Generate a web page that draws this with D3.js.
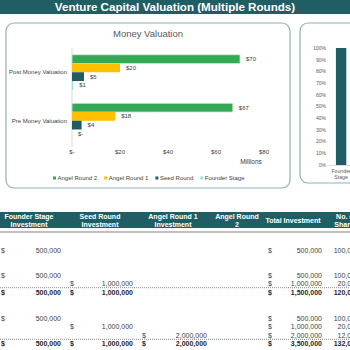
<!DOCTYPE html>
<html>
<head>
<meta charset="utf-8">
<script src="https://cdn.jsdelivr.net/npm/d3@7"></script>
<style>
  body { margin: 0; background: #fff; }
  svg { display: block; font-family: "Liberation Sans", Arial, sans-serif; }
</style>
</head>
<body>
<div id="chart"></div>
<script>
// ---- data ----
const categories = ["Post Money Valuation", "Pre Money Valuation"];
const series = ["Angel Round 2", "Angel Round 1", "Seed Round", "Founder Stage"];
const postValues = [70, 20, 5, 0.5];   // millions
const preValues = [67, 18, 4, 0];
const xTicks = [0, 20, 40, 60, 80];

const stages = ["Founder Stage"];
const founderOwnership = [1.0];

const headers = [["Founder Stage", "Investment"], ["Seed Round", "Investment"], ["Angel Round 1", "Investment"],
                 ["Angel Round", "2"], ["Total Investment"], ["No. of", "Shares"]];
const rowGroup = [0, 1, 1, 1, 2, 2, 2, 2];
const rowLine = [0, 0, 1, 2, 0, 1, 2, 3];
const rowBold = [false, false, false, true, false, false, false, true];
const colFounder = [500000, 500000, null, 500000, 500000, null, null, 500000];
const colSeed = [null, null, 1000000, 1000000, null, 1000000, null, 1000000];
const colAngel1 = [null, null, null, null, null, null, 2000000, 2000000];
const colAngel2 = [null, null, null, null, null, null, null, null];
const colTotal = [500000, 500000, 1000000, 1500000, 500000, 1000000, 2000000, 3500000];
const colShares = [100000, 100000, 20000, 120000, 100000, 20000, 12000, 132000];

// ---- setup ----
const W = 350, H = 350;
const teal = "#1f5f63";
const colors = d3.scaleOrdinal().domain(series).range(["#35a855", "#ffc000", "#1f5c63", "#9fdce9"]);

const svg = d3.select("#chart").append("svg").attr("width", W).attr("height", H);

// title bar
svg.append("rect").attr("x", 0).attr("y", 0).attr("width", W).attr("height", 14).attr("fill", teal);
svg.append("text").attr("x", W / 2).attr("y", 11.3).attr("text-anchor", "middle")
    .attr("fill", "#fff").attr("font-weight", "bold").attr("font-size", 11.6)
    .text("Venture Capital Valuation (Multiple Rounds)");

// ---- left chart ----
svg.append("rect").attr("x", 6).attr("y", 23).attr("width", 284).attr("height", 165)
    .attr("rx", 8).attr("fill", "#fff").attr("stroke", "#8fb1b1").attr("stroke-width", 1.2);

svg.append("text").attr("x", 148).attr("y", 37).attr("text-anchor", "middle")
    .attr("fill", "#595959").attr("font-size", 9.5).text("Money Valuation");

const x = d3.scaleLinear().domain([0, 80]).range([72, 264]);
const y = d3.scaleBand().domain(categories).range([48, 145]).paddingInner(0.28).paddingOuter(0.14);
const y1 = d3.scaleBand().domain(series).range([0, y.bandwidth()]);

const valueRows = [postValues, preValues];
const barData = [];
categories.forEach((c, i) => series.forEach((s, j) => barData.push({cat: c, s: s, v: valueRows[i][j]})));

svg.append("line").attr("x1", 72).attr("x2", 72).attr("y1", 48).attr("y2", 147)
    .attr("stroke", "#d9d9d9").attr("stroke-width", 1);

svg.append("g").selectAll("rect").data(barData).enter().append("rect")
    .attr("x", x(0))
    .attr("y", d => y(d.cat) + y1(d.s))
    .attr("width", d => x(d.v) - x(0))
    .attr("height", y1.bandwidth())
    .attr("fill", d => colors(d.s))
    .attr("stroke", d => d.s === "Angel Round 2" ? "#c9ecd0" : "none")
    .attr("stroke-width", 0.8);

svg.append("g").selectAll("text").data(barData).enter().append("text")
    .attr("x", d => x(d.v) + 6)
    .attr("y", d => y(d.cat) + y1(d.s) + y1.bandwidth() / 2 + 2)
    .attr("font-size", 6).attr("fill", "#404040")
    .text(d => d.v === 0 ? "$-" : "$" + Math.round(d.v));

svg.append("g").selectAll("text").data(categories).enter().append("text")
    .attr("x", 67).attr("y", d => y(d) + y.bandwidth() / 2 + 2)
    .attr("text-anchor", "end").attr("font-size", 6).attr("fill", "#404040")
    .text(d => d);

svg.append("g").selectAll("text").data(xTicks).enter().append("text")
    .attr("x", d => x(d)).attr("y", 154).attr("text-anchor", "middle")
    .attr("font-size", 6).attr("fill", "#404040")
    .text(d => d === 0 ? "$-" : "$" + d);

svg.append("text").attr("x", 251).attr("y", 164).attr("text-anchor", "middle")
    .attr("font-size", 6.5).attr("fill", "#404040").text("Millions");

// legend
const legend = svg.append("g");
let lx = 53;
series.forEach(s => {
  legend.append("rect").attr("x", lx).attr("y", 176.5).attr("width", 3).attr("height", 3).attr("fill", colors(s));
  const t = legend.append("text").attr("x", lx + 4.5).attr("y", 180.2)
      .attr("font-size", 6).attr("fill", "#404040").text(s);
  lx += 4.5 + t.node().getComputedTextLength() + 7;
});

// ---- right chart ----
svg.append("rect").attr("x", 300).attr("y", 23).attr("width", 70).attr("height", 160)
    .attr("rx", 8).attr("fill", "#fff").attr("stroke", "#8fb1b1").attr("stroke-width", 1.2);

const yp = d3.scaleLinear().domain([0, 1]).range([165, 48]);
const xs = d3.scaleBand().domain(["Founder Stage", "Seed Round", "Angel Round 1", "Angel Round 2"])
    .range([329, 405]).padding(0.4);

svg.append("g").selectAll("text").data(d3.range(0, 1.01, 0.1)).enter().append("text")
    .attr("x", 326).attr("y", d => yp(d) + 1.8).attr("text-anchor", "end")
    .attr("font-size", 5).attr("fill", "#595959")
    .text(d3.format(".0%"));

svg.append("line").attr("x1", 329).attr("x2", 350).attr("y1", 165.5).attr("y2", 165.5)
    .attr("stroke", "#d9d9d9");

svg.append("g").selectAll("rect").data(stages).enter().append("rect")
    .attr("x", d => xs(d)).attr("width", xs.bandwidth())
    .attr("y", (d, i) => yp(founderOwnership[i]))
    .attr("height", (d, i) => yp(0) - yp(founderOwnership[i]))
    .attr("fill", "#1f5c63");

const stageLbl = svg.append("g").selectAll("text").data(stages).enter().append("text")
    .attr("x", d => xs(d) + xs.bandwidth() / 2).attr("text-anchor", "middle")
    .attr("font-size", 5.2).attr("fill", "#595959");
stageLbl.append("tspan").attr("x", d => xs(d) + xs.bandwidth() / 2).attr("y", 173).text(d => d.split(" ")[0]);
stageLbl.append("tspan").attr("x", d => xs(d) + xs.bandwidth() / 2).attr("y", 179).text(d => d.split(" ")[1]);

// ---- table ----
svg.append("rect").attr("x", 0).attr("y", 212).attr("width", W).attr("height", 16).attr("fill", teal);
svg.append("rect").attr("x", 0).attr("y", 231).attr("width", W).attr("height", 2).attr("fill", "#bfbfbf");

const headerX = [29, 100, 173, 237, 293, 346];
headers.forEach((h, i) => {
  const t = svg.append("text").attr("text-anchor", "middle").attr("fill", "#fff")
      .attr("font-weight", "bold").attr("font-size", 7);
  if (h.length === 1) {
    t.append("tspan").attr("x", headerX[i]).attr("y", 222.5).text(h[0]);
  } else {
    t.append("tspan").attr("x", headerX[i]).attr("y", 218.5).text(h[0]);
    t.append("tspan").attr("x", headerX[i]).attr("y", 226.5).text(h[1]);
  }
});

const groupTop = [250, 275, 318];
const lineStep = 8.6;
const rowY = i => groupTop[rowGroup[i]] + rowLine[i] * lineStep;
const fmt = d3.format(",");

const cols = [
  {vals: colFounder, dollar: 1, right: 61},
  {vals: colSeed, dollar: 70, right: 133},
  {vals: colAngel1, dollar: 142, right: 207},
  {vals: colAngel2, dollar: 214, right: 262},
  {vals: colTotal, dollar: 268, right: 322},
  {vals: colShares, dollar: null, right: 359}
];

// dotted separators above total rows
rowBold.forEach((b, i) => {
  if (!b) return;
  svg.append("line").attr("x1", 0).attr("x2", W)
      .attr("y1", rowY(i) - 4.5).attr("y2", rowY(i) - 4.5)
      .attr("stroke", "#555").attr("stroke-width", 0.7).attr("stroke-dasharray", "1,1");
});

const body = svg.append("g").attr("font-size", 7);
cols.forEach(c => {
  c.vals.forEach((v, i) => {
    if (v === null) return;
    const color = rowBold[i] ? "#262626" : "#404040";
    const weight = rowBold[i] ? "bold" : "normal";
    if (c.dollar !== null) {
      body.append("text").attr("x", c.dollar).attr("y", rowY(i) + 2.5)
          .attr("fill", color).attr("font-weight", weight).text("$");
    }
    body.append("text").attr("x", c.right).attr("y", rowY(i) + 2.5).attr("text-anchor", "end")
        .attr("fill", color).attr("font-weight", weight).text(fmt(v));
  });
});
</script>
</body>
</html>
